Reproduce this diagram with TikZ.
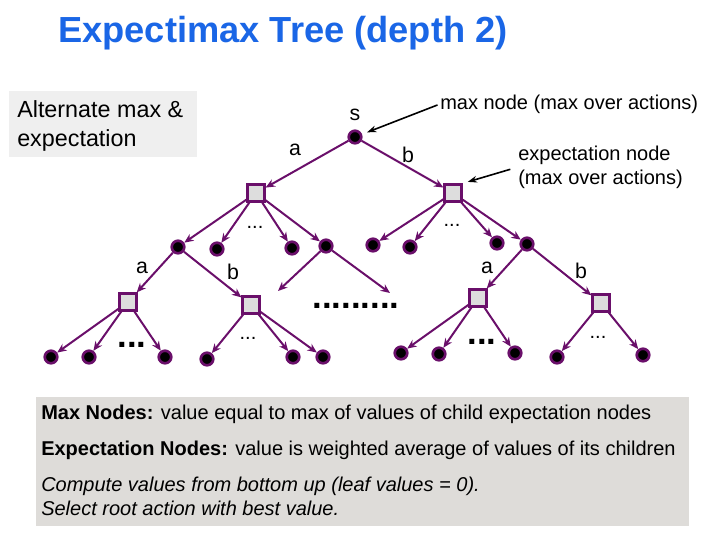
\documentclass[tikz,border=0pt]{standalone}
\usepackage{fontspec}
\setmainfont{Liberation Sans}
\usetikzlibrary{arrows.meta}
\definecolor{pur}{HTML}{6A0F6A}
\definecolor{ttl}{HTML}{1A66E6}
\definecolor{boxa}{HTML}{EFEFEF}
\definecolor{boxb}{HTML}{DEDCD9}
\definecolor{sqf}{HTML}{DDDDDD}
\begin{document}
\begin{tikzpicture}[x=0.75pt,y=-0.75pt,
  maxn/.style={circle,fill=black,draw=pur,line width=2pt,minimum size=9.4pt,inner sep=0pt},
  expn/.style={rectangle,fill=sqf,draw=pur,line width=2pt,minimum size=12.4pt,inner sep=0pt},
  edge/.style={draw=pur,line width=1.5pt,-{Stealth[length=7pt,width=6pt]}},
  ann/.style={draw=black,line width=1.2pt,-{Stealth[length=7pt,width=5pt]}},
  lbl/.style={font=\fontsize{16pt}{18pt}\selectfont},
  thindots/.style={font=\fontsize{15pt}{17pt}\selectfont},
  fatdots/.style={font=\bfseries\fontsize{26pt}{28pt}\selectfont},
  txt/.style={font=\fontsize{15pt}{17pt}\selectfont,anchor=base west,inner sep=0pt}]
\useasboundingbox (0,0) rectangle (720,540);
% title
\node[font=\bfseries\fontsize{27.2pt}{30pt}\selectfont,text=ttl] (title) at (283,33) {Expectimax Tree (depth 2)};
% left box
\fill[boxa] (9,91) rectangle (197,157);
\node[font=\fontsize{17.5pt}{21.75pt}\selectfont,align=left,anchor=base west,inner sep=0pt] (alt) at (17,146) {Alternate max \&\\expectation};
% bottom box
\fill[boxb] (36,397) rectangle (689,526);
\node[txt] (t1) at (41,419) {\textbf{Max Nodes:} value equal to max of values of child expectation nodes};
\node[txt] (t2) at (41,455) {\textbf{Expectation Nodes:} value is weighted average of values of its children};
\node[txt] (t3) at (41,491) {\itshape Compute values from bottom up (leaf values = 0).};
\node[txt] (t4) at (41,515) {\itshape Select root action with best value.};
% root
\node[maxn] (s) at (355,137) {};
\node[lbl] (ls) at (355,115) {s};
% level 1 chance
\node[expn] (e1) at (256,193) {};
\node[expn] (e2) at (453,193) {};
\draw[edge] (s) -- (e1);
\draw[edge] (s) -- (e2);
\node[lbl] at (295,150) {a};
\node[lbl] at (408,155) {b};
% level 2 max
\node[maxn] (m1) at (178,247) {};
\node[maxn] (m2) at (217,249) {};
\node[maxn] (m3) at (292,248) {};
\node[maxn] (m4) at (326,246) {};
\node[maxn] (m5) at (373,245) {};
\node[maxn] (m6) at (410,247) {};
\node[maxn] (m7) at (497,243) {};
\node[maxn] (m8) at (527,244) {};
\foreach \m in {m1,m2,m3,m4} \draw[edge] (e1) -- (\m);
\foreach \m in {m5,m6,m7,m8} \draw[edge] (e2) -- (\m);
\node[thindots] (d1) at (255,227) {...};
\node[thindots] (d2) at (452,225) {...};
% level 3 chance
\node[expn] (c1) at (128,302) {};
\node[expn] (c2) at (251,305) {};
\node[expn] (c3) at (478,298) {};
\node[expn] (c4) at (601,303) {};
\draw[edge] (m1) -- (c1);
\draw[edge] (m1) -- (c2);
\draw[edge] (m8) -- (c3);
\draw[edge] (m8) -- (c4);
\node[lbl] at (142,268) {a};
\node[lbl] at (233,272) {b};
\node[lbl] at (487,268) {a};
\node[lbl] at (581,271) {b};
\coordinate (x1) at (278,291);
\coordinate (x2) at (390,293);
\draw[edge] (m4) -- (x1);
\draw[edge] (m4) -- (x2);
\node[fatdots] (d3) at (356,306) {.........};
% leaves
\node[maxn] (l1) at (51,357) {};
\node[maxn] (l2) at (89,357) {};
\node[maxn] (l3) at (165,357) {};
\node[maxn] (l4) at (207,359) {};
\node[maxn] (l5) at (293,357) {};
\node[maxn] (l6) at (323,357) {};
\node[maxn] (l7) at (401,353) {};
\node[maxn] (l8) at (439,354) {};
\node[maxn] (l9) at (515,353) {};
\node[maxn] (l10) at (557,357) {};
\node[maxn] (l11) at (643,355) {};
\foreach \l in {l1,l2,l3} \draw[edge] (c1) -- (\l);
\foreach \l in {l4,l5,l6} \draw[edge] (c2) -- (\l);
\foreach \l in {l7,l8,l9} \draw[edge] (c3) -- (\l);
\foreach \l in {l10,l11} \draw[edge] (c4) -- (\l);
\node[fatdots] (d4) at (132,345) {...};
\node[fatdots] (d5) at (482,342) {...};
\node[thindots] (d6) at (248,338) {...};
\node[thindots] (d7) at (598,337) {...};
% annotations
\node[font=\fontsize{15pt}{18pt}\selectfont,anchor=west,inner sep=0pt] (mx) at (440,104) {max node (max over actions)};
\node[font=\fontsize{15pt}{18pt}\selectfont,anchor=west,align=left,inner sep=0pt] (ex) at (518,167) {expectation node\\(max over actions)};
\draw[ann,shorten <=2pt,shorten >=4pt] (mx.west) -- (s);
\draw[ann,shorten <=6pt,shorten >=4pt] (ex.west) -- (e2.north east);
\end{tikzpicture}
\end{document}
